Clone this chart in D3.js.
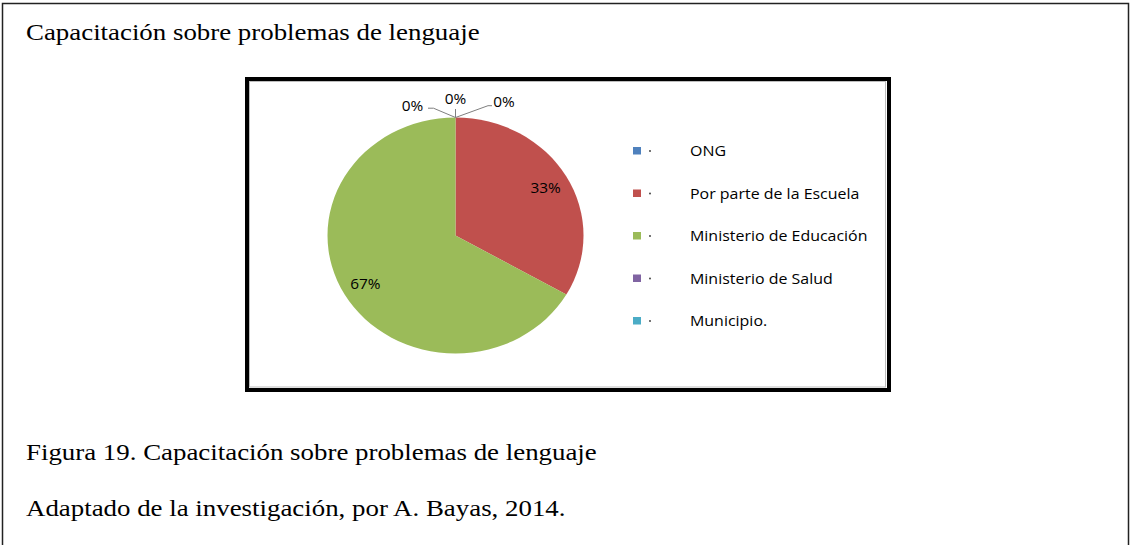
<!DOCTYPE html>
<html>
<head>
<meta charset="utf-8">
<script src="https://cdn.jsdelivr.net/npm/d3@7"></script>
<style>
  html, body { margin: 0; padding: 0; background: #fff; }
  svg { display: block; }
</style>
</head>
<body>
<svg id="chart" width="1131" height="545"></svg>
<script>
// ---- data ----
const categories = ["ONG", "Por parte de la Escuela", "Ministerio de Educación", "Ministerio de Salud", "Municipio."];
const values = [0, 1, 2, 0, 0];            // counts -> 0%, 33%, 67%, 0%, 0%
const percentLabels = ["0%", "33%", "67%", "0%", "0%"];
const colors = ["#4F81BD", "#C0504D", "#9BBB59", "#8064A2", "#4BACC6"];
const titleText = "Capacitación sobre problemas de lenguaje";
const captionText = "Figura 19. Capacitación sobre problemas de lenguaje";
const sourceText = "Adaptado de la investigación, por A. Bayas, 2014.";

// ---- layout ----
const svg = d3.select("#chart");
const W = 1131, H = 545;
const serif = "'Liberation Serif', 'Times New Roman', serif";
const sans = "'Open Sans', 'Lato', sans-serif";
const stretch = 1.12;   // the source picture is stretched horizontally

function sText(parent, x, y, txt, opts) {
  const t = parent.append("text")
    .attr("transform", `translate(${x},${y}) scale(${opts.sx || stretch},1)`)
    .attr("font-family", opts.family).attr("font-size", opts.size).attr("fill", "#000")
    .attr("text-anchor", opts.anchor || "start")
    .text(txt);
  if (opts.central) t.attr("dominant-baseline", "central");
  return t;
}

// outer frame (no bottom edge)
svg.append("path")
  .attr("d", `M2.5,${H} V3.5 H1128.5 V${H}`)
  .attr("fill", "none").attr("stroke", "#222").attr("stroke-width", 1.5);

sText(svg, 26, 39.5, titleText, { family: serif, size: 24, sx: 1.12 });
sText(svg, 26, 459.5, captionText, { family: serif, size: 24, sx: 1.12 });
sText(svg, 26, 515.5, sourceText, { family: serif, size: 24, sx: 1.12 });

// chart box
svg.append("rect").attr("x", 247).attr("y", 79).attr("width", 642).attr("height", 311)
  .attr("fill", "#fff").attr("stroke", "#000").attr("stroke-width", 4);
svg.append("rect").attr("x", 249.5).attr("y", 81.5).attr("width", 636).attr("height", 305.5)
  .attr("fill", "none").attr("stroke", "#bdbdbd").attr("stroke-width", 1);

// pie
const cx = 455.5, cy = 235.5, R = 118, sx = 128 / 118;
const pie = d3.pie().sort(null).value(d => d)(values);
const arc = d3.arc().innerRadius(0).outerRadius(R);
const labelArc = d3.arc().innerRadius(96).outerRadius(96);

const gPie = svg.append("g").attr("transform", `translate(${cx},${cy}) scale(${sx},1)`);
gPie.selectAll("path").data(pie).join("path")
  .attr("d", arc)
  .attr("fill", (d, i) => colors[i]);

const gLab = svg.append("g").attr("transform", `translate(${cx},${cy})`);
// inside labels for non-zero slices
pie.forEach((d, i) => {
  if (d.value > 0) {
    const c = labelArc.centroid(d);
    sText(gLab, c[0] * sx, c[1], percentLabels[i],
      { family: sans, size: 14, anchor: "middle", central: true, sx: 1.1 });
  }
});

// outside labels for zero slices, with leader lines
const zeroIdx = values.map((v, i) => v === 0 ? i : -1).filter(i => i >= 0);
// placement of zero-value labels: ONG right, Salud center, Municipio left
const zeroPlacement = { 0: { dx: 48.5, dy: -134.5 }, 3: { dx: 0, dy: -137 }, 4: { dx: -43, dy: -130.5 } };
zeroIdx.forEach(i => {
  const d = pie[i];
  const ex = Math.sin(d.startAngle) * R * sx, ey = -Math.cos(d.startAngle) * R;
  const pl = zeroPlacement[i];
  const lx = pl.dx, ly = pl.dy;
  let pts;
  if (lx > 0) pts = [[ex, ey], [lx - 16, ly + 4.7], [lx - 12, ly + 4.7]];
  else if (lx < 0) pts = [[ex, ey], [lx + 21, ly + 3.2], [lx + 15.5, ly + 3.2]];
  else pts = [[ex, ey], [0, ly + 10.5]];
  gLab.append("path").attr("d", d3.line()(pts))
    .attr("fill", "none").attr("stroke", "#7f7f7f").attr("stroke-width", 1);
  sText(gLab, lx, ly, percentLabels[i],
    { family: sans, size: 14, anchor: "middle", central: true, sx: 1.1 });
});

// legend
const gLeg = svg.append("g").attr("transform", "translate(633,147)");
const rowH = 42.5;
categories.forEach((c, i) => {
  const g = gLeg.append("g").attr("transform", `translate(0,${i * rowH})`);
  g.append("rect").attr("width", 8).attr("height", 7.5).attr("fill", colors[i]);
  g.append("circle").attr("cx", 17).attr("cy", 4).attr("r", 0.9).attr("fill", "#333");
  sText(g, 57, 3.5, c, { family: sans, size: 14, central: true, sx: 1.14 });
});
</script>
</body>
</html>
